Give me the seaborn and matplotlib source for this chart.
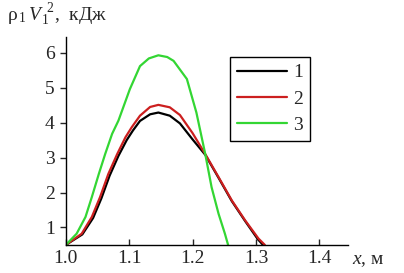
import numpy as np
import pandas as pd
import seaborn as sns
import matplotlib
matplotlib.use("Agg")
import matplotlib.pyplot as plt

# curve 1 (black)
x1 = [1.0, 1.026, 1.043, 1.056, 1.069, 1.083, 1.096, 1.106, 1.117, 1.133, 1.146,
      1.164, 1.180, 1.200, 1.220, 1.241, 1.262, 1.283, 1.303, 1.311]
y1 = [0.5, 0.80, 1.27, 1.83, 2.48, 3.05, 3.50, 3.78, 4.05, 4.24, 4.29,
      4.20, 3.98, 3.52, 3.08, 2.42, 1.75, 1.18, 0.66, 0.5]

# curve 2 (red)
x2 = [1.0, 1.025, 1.041, 1.054, 1.067, 1.081, 1.094, 1.104, 1.117, 1.133, 1.146,
      1.164, 1.180, 1.200, 1.220, 1.241, 1.262, 1.283, 1.304, 1.314]
y2 = [0.5, 0.82, 1.30, 1.87, 2.53, 3.10, 3.58, 3.87, 4.20, 4.45, 4.51,
      4.44, 4.22, 3.70, 3.10, 2.44, 1.77, 1.20, 0.68, 0.5]

# curve 3 (green)
x3 = [1.0, 1.017, 1.031, 1.041, 1.052, 1.062, 1.073, 1.083, 1.101, 1.117, 1.131,
      1.146, 1.160, 1.170, 1.191, 1.206, 1.220, 1.230, 1.241, 1.251, 1.256]
y3 = [0.5, 0.82, 1.30, 1.87, 2.53, 3.10, 3.68, 4.06, 4.96, 5.62, 5.84,
      5.93, 5.88, 5.77, 5.25, 4.29, 3.10, 2.15, 1.39, 0.82, 0.5]

labels = ["1", "2", "3"]
colors = ["#000000", "#cc1f1f", "#33d633"]

xticks = [1.0, 1.1, 1.2, 1.3, 1.4]
yticks = [1, 2, 3, 4, 5, 6]

sns.set_style("white")
plt.rcParams["font.family"] = ["Liberation Serif", "DejaVu Serif"]
plt.rcParams["mathtext.fontset"] = "custom"
plt.rcParams["mathtext.rm"] = "Liberation Serif"
plt.rcParams["mathtext.it"] = "Liberation Serif:italic"

fig = plt.figure(figsize=(4.04, 2.73), dpi=100)
ax = fig.add_axes([0.163, 0.103, 0.698, 0.761])

for xs, ys, lab, col in zip([x1, x2, x3], [y1, y2, y3], labels, colors):
    df = pd.DataFrame({"x": xs, "y": ys})
    sns.lineplot(data=df, x="x", y="y", ax=ax, color=col, linewidth=1.6, label=lab)

ax.set_xlim(1.0, 1.445)
ax.set_ylim(0.5, 6.45)
ax.set_xticks(xticks)
ax.set_xticklabels([f"{t:.1f}" for t in xticks])
ax.set_yticks(yticks)
ax.set_xlabel("")
ax.set_ylabel("")

sns.despine(ax=ax)
for s in ["left", "bottom"]:
    ax.spines[s].set_color("black")
    ax.spines[s].set_linewidth(1.0)

ax.tick_params(axis="x", direction="in", length=4, width=1, labelsize=14, pad=4)
ax.tick_params(axis="y", direction="out", length=4, width=1, labelsize=14, pad=4)
ax.xaxis.set_ticks_position("bottom")
ax.yaxis.set_ticks_position("left")

leg = ax.legend(loc="upper left", bbox_to_anchor=(0.582, 0.904), fontsize=14,
                frameon=True, fancybox=False, framealpha=1, edgecolor="black",
                handlelength=2.6, handletextpad=0.3, labelspacing=0.45,
                borderpad=0.35, borderaxespad=0)
leg.get_frame().set_linewidth(1.0)

fig.text(0.018, 0.925, r"$\mathrm{ρ}_{\,1}\,V_{\,1}^{\;\;2}$,  кДж", fontsize=14, va="baseline", ha="left")
fig.text(0.871, 0.045, r"$x$, м", fontsize=14, va="center", ha="left")

fig.savefig("out.png", dpi=100)
